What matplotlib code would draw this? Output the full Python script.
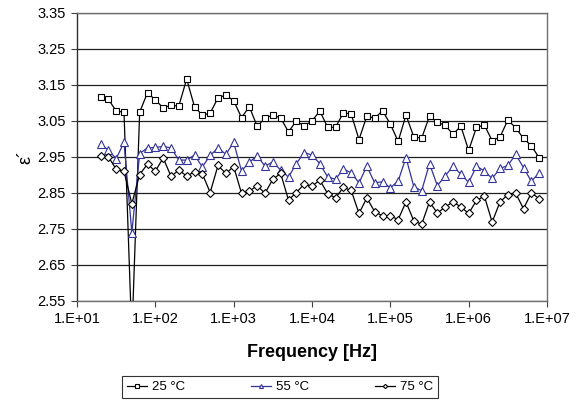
import numpy as np
import matplotlib
matplotlib.use('Agg')
import matplotlib.pyplot as plt
from matplotlib.ticker import FixedLocator, NullLocator

plt.rcParams['font.family'] = ['Liberation Sans', 'DejaVu Sans']

# ── Data ──────────────────────────────────────────────────────────────────────
# 10 points per decade, 20 Hz ... 8 MHz
log_f = np.round(np.arange(1.3, 6.95, 0.1), 1)
freq = 10 ** log_f

eps_25 = [3.116, 3.110, 3.077, 3.074, 2.450, 3.074, 3.128, 3.108, 3.086, 3.093,
          3.091, 3.166, 3.089, 3.066, 3.071, 3.114, 3.121, 3.106, 3.059, 3.089,
          3.035, 3.057, 3.066, 3.058, 3.019, 3.050, 3.035, 3.050, 3.077, 3.032,
          3.032, 3.072, 3.069, 2.998, 3.063, 3.057, 3.078, 3.041, 2.993, 3.066,
          3.005, 3.002, 3.063, 3.046, 3.037, 3.013, 3.035, 2.968, 3.032, 3.038,
          2.995, 3.005, 3.052, 3.031, 3.001, 2.981, 2.947]

eps_55 = [2.985, 2.969, 2.945, 2.990, 2.740, 2.959, 2.975, 2.976, 2.979, 2.975,
          2.941, 2.941, 2.955, 2.922, 2.954, 2.975, 2.957, 2.990, 2.911, 2.935,
          2.953, 2.924, 2.936, 2.913, 2.894, 2.931, 2.962, 2.955, 2.931, 2.894,
          2.888, 2.916, 2.906, 2.878, 2.924, 2.878, 2.881, 2.864, 2.883, 2.948,
          2.867, 2.856, 2.931, 2.870, 2.897, 2.924, 2.902, 2.879, 2.924, 2.911,
          2.890, 2.918, 2.926, 2.957, 2.920, 2.882, 2.906]

eps_75 = [2.953, 2.950, 2.916, 2.910, 2.820, 2.901, 2.930, 2.910, 2.947, 2.896,
          2.913, 2.897, 2.908, 2.903, 2.851, 2.926, 2.904, 2.923, 2.849, 2.855,
          2.870, 2.849, 2.888, 2.904, 2.830, 2.851, 2.874, 2.869, 2.885, 2.848,
          2.836, 2.865, 2.857, 2.793, 2.836, 2.798, 2.786, 2.786, 2.776, 2.825,
          2.772, 2.763, 2.825, 2.794, 2.811, 2.825, 2.811, 2.793, 2.829, 2.841,
          2.769, 2.825, 2.845, 2.849, 2.806, 2.850, 2.834]

y_ticks = [2.55, 2.65, 2.75, 2.85, 2.95, 3.05, 3.15, 3.25, 3.35]
x_ticks = [1e1, 1e2, 1e3, 1e4, 1e5, 1e6, 1e7]
x_labels = ['1.E+01', '1.E+02', '1.E+03', '1.E+04', '1.E+05', '1.E+06', '1.E+07']

# ── Figure ────────────────────────────────────────────────────────────────────
fig = plt.figure(figsize=(5.85, 4.01), dpi=100)
ax = fig.add_axes([77/585, 1 - 301/401, 470/585, 288.3/401])

for yv in y_ticks:
    ax.axhline(yv, color='#202020', linewidth=0.9, zorder=1)

ax.plot(freq, eps_25, color='black', linewidth=0.9, marker='s', markersize=4.5,
        markerfacecolor='white', markeredgecolor='black', markeredgewidth=0.8,
        label='25 °C', zorder=3)
ax.plot(freq, eps_55, color='#333399', linewidth=0.9, marker='^', markersize=5.2,
        markerfacecolor='white', markeredgecolor='#333399', markeredgewidth=0.8,
        label='55 °C', zorder=3)
ax.plot(freq, eps_75, color='black', linewidth=0.9, marker='D', markersize=4.0,
        markerfacecolor='white', markeredgecolor='black', markeredgewidth=0.8,
        label='75 °C', zorder=3)

ax.set_xscale('log')
ax.set_xlim(1e1, 1e7)
ax.set_ylim(2.55, 3.35)
ax.xaxis.set_major_locator(FixedLocator(x_ticks))
ax.xaxis.set_minor_locator(NullLocator())
ax.set_xticklabels(x_labels)
ax.set_yticks(y_ticks)
ax.set_yticklabels([f'{v:.2f}' for v in y_ticks])
ax.tick_params(axis='both', direction='out', length=4, width=0.8,
               color='#404040', labelsize=10.5, pad=4)

for side in ['left', 'bottom', 'right', 'top']:
    ax.spines[side].set_color('#707070')
    ax.spines[side].set_linewidth(1.0)
ax.spines['left'].set_color('#303030')

ax.set_xlabel('Frequency [Hz]', fontsize=13, fontweight='bold', labelpad=13)
ax.set_ylabel('ε´', fontsize=13, labelpad=2)

leg = fig.legend(loc='center', bbox_to_anchor=(280/585, 1 - 387/401), ncol=3,
                 fontsize=9.5, frameon=True, fancybox=False, handlelength=1.5,
                 handletextpad=0.4, columnspacing=5.0, borderpad=0.35,
                 markerscale=0.55)
leg.get_frame().set_edgecolor('black')
leg.get_frame().set_linewidth(0.8)

fig.savefig('out.png', dpi=100)
